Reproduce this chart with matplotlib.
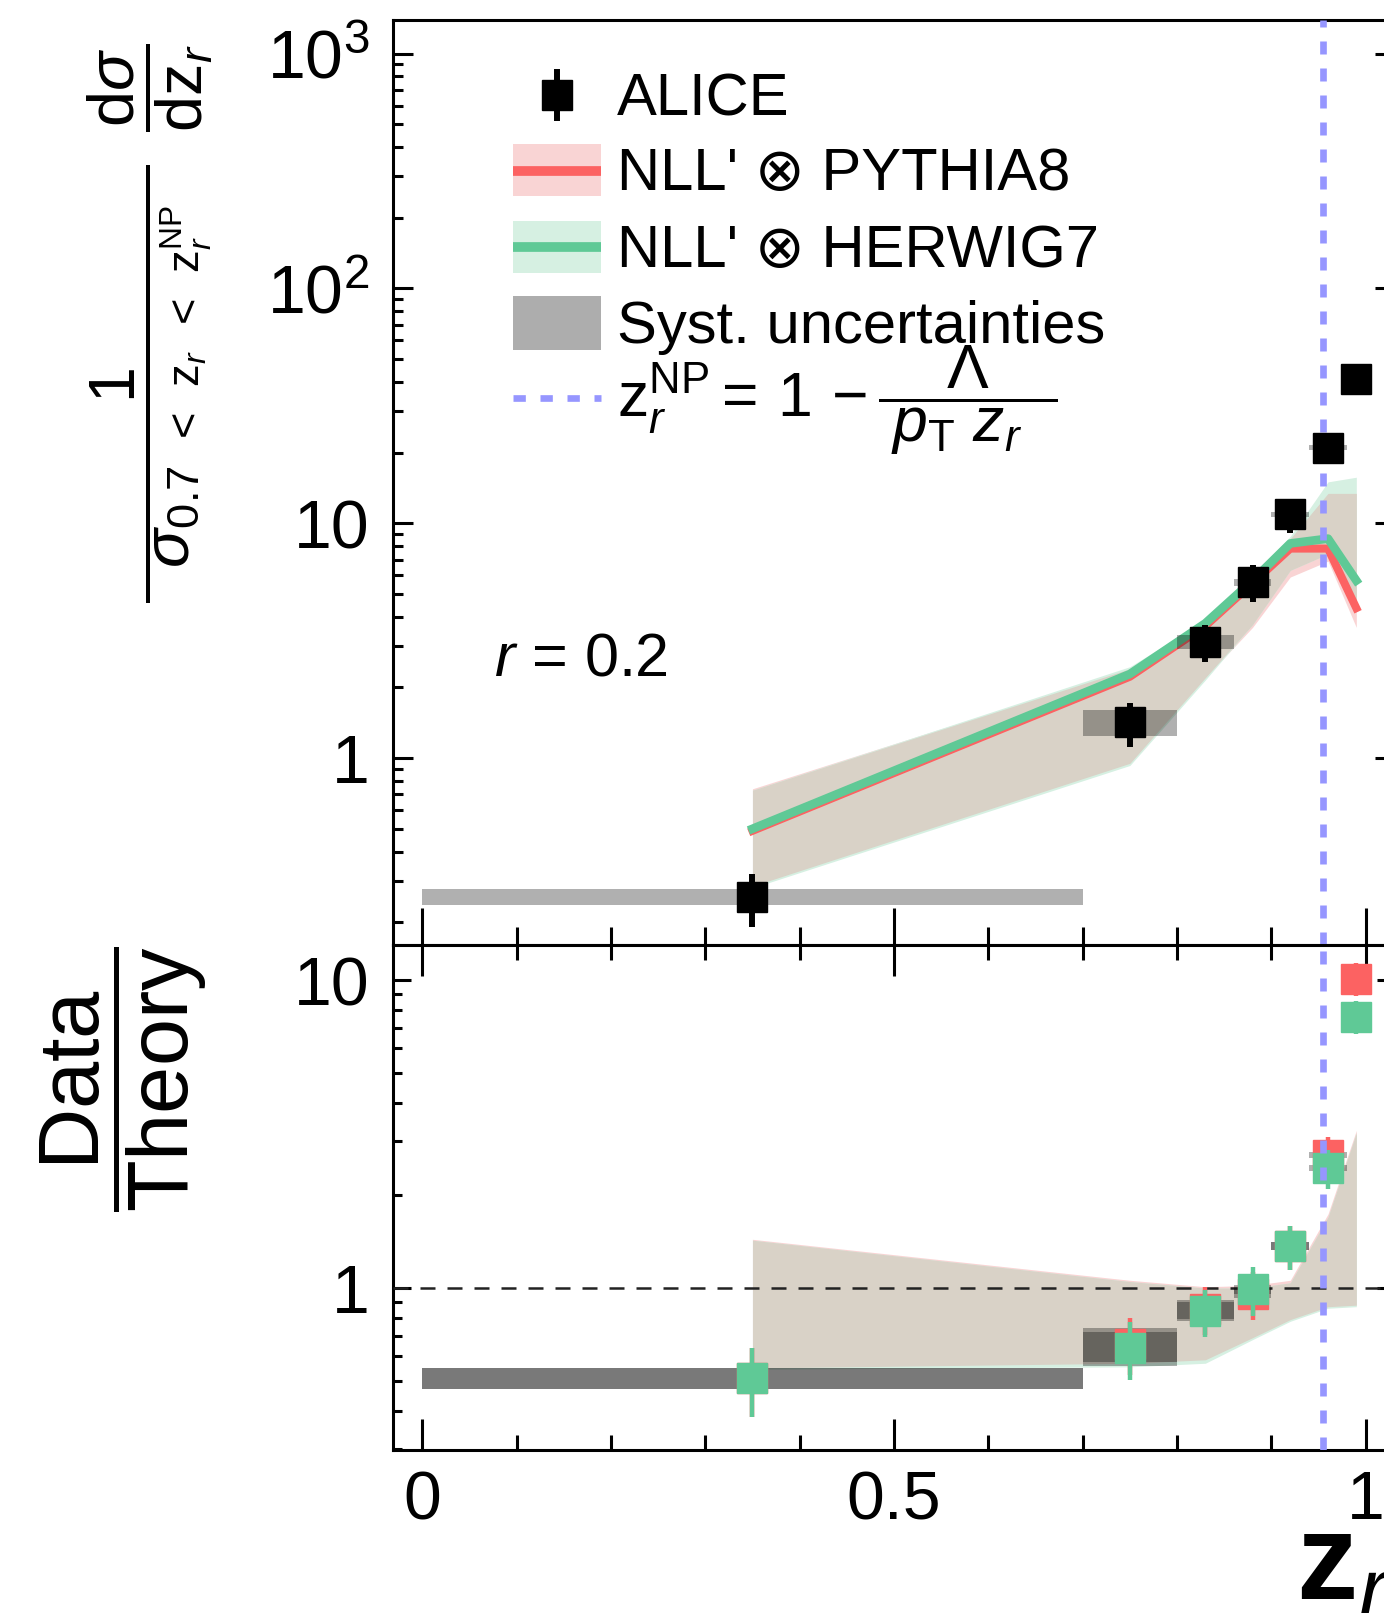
import matplotlib
matplotlib.use("Agg")
import matplotlib.pyplot as plt
import numpy as np
from matplotlib.patches import Rectangle
from matplotlib.ticker import FixedLocator, MultipleLocator, NullFormatter, LogLocator

plt.rcParams['font.family'] = ['Liberation Sans', 'DejaVu Sans']
plt.rcParams['mathtext.fontset'] = 'custom'
plt.rcParams['mathtext.rm'] = 'Liberation Sans'
plt.rcParams['mathtext.it'] = 'Liberation Sans:italic'
plt.rcParams['mathtext.bf'] = 'Liberation Sans:bold'
plt.rcParams['mathtext.sf'] = 'Liberation Sans'

# z_r bins
bin_lo = [0.0, 0.7, 0.8, 0.86, 0.9, 0.94, 0.98]
bin_hi = [0.7, 0.8, 0.86, 0.9, 0.94, 0.98, 1.0]
zr = [0.35, 0.75, 0.83, 0.88, 0.92, 0.96, 0.99]

# ALICE data
alice = [0.256, 1.42, 3.12, 5.61, 10.9, 21.0, 41.2]
alice_stat = [0.065, 0.30, 0.55, 1.0, 1.8, 3.0, 5.0]
alice_syst = [0.02, 0.18, 0.22, 0.19, 0.3, 0.5, 1.0]

# theory curves + bands
pythia = [0.49, 2.22, 3.65, 5.55, 7.8, 7.8, 4.35]
pythia_lo = [0.285, 0.95, 2.20, 3.6, 5.9, 6.9, 3.6]
pythia_hi = [0.74, 2.40, 3.80, 5.9, 8.6, 13.4, 13.4]
herwig = [0.50, 2.28, 3.75, 5.7, 8.2, 8.6, 5.7]
herwig_lo = [0.28, 0.93, 2.15, 3.7, 6.3, 7.4, 4.2]
herwig_hi = [0.73, 2.45, 3.85, 6.0, 8.8, 15.0, 15.7]

# data / theory
ratio_pythia = [0.51, 0.66, 0.855, 0.96, 1.37, 2.70, 10.1]
ratio_herwig = [0.51, 0.64, 0.84, 0.99, 1.37, 2.45, 7.6]
ratio_pythia_lo = [0.55, 0.57, 0.585, 0.69, 0.79, 0.87, 0.88]
ratio_pythia_hi = [1.44, 1.06, 1.01, 1.02, 1.06, 1.74, 3.25]
ratio_herwig_lo = [0.545, 0.555, 0.57, 0.68, 0.78, 0.86, 0.87]
ratio_herwig_hi = [1.43, 1.05, 1.0, 1.0, 1.04, 1.70, 3.19]

z_np = 0.955

top_ticks = [1, 10, 100, 1000]
top_ticklabels = ['1', '10', r'$\mathregular{10^{2}}$', r'$\mathregular{10^{3}}$']
bot_ticks = [1, 10]
bot_ticklabels = ['1', '10']
x_ticks = [0, 0.5, 1]
x_ticklabels = ['0', '0.5', '1']

legend_labels = ['ALICE', "NLL' \u2297 PYTHIA8", "NLL' \u2297 HERWIG7",
                 'Syst. uncertainties',
                 r'$\mathrm{z}_{r}^{\mathrm{NP}} =\,1\,-\dfrac{\Lambda}{\;p_{\mathrm{T}}\ z_{r}\enspace\,}$']

red = '#fc6262'
green = '#5fc996'
pink = '#f9d4d4'
lgreen = '#d6f0e2'
beige = '#d9d2c7'
blue = '#9696ff'

W, H = 1384, 1613
fig = plt.figure(figsize=(W / 100, H / 100), dpi=100)
ax1 = fig.add_axes([393 / W, 1 - 945 / H, 1002 / W, 925 / H])
ax2 = fig.add_axes([393 / W, 1 - 1450 / H, 1002 / W, 505 / H], sharex=ax1)

alice = np.array(alice)
alice_stat = np.array(alice_stat)
alice_syst = np.array(alice_syst)
width = np.array(bin_hi) - np.array(bin_lo)

# ---- top panel
ax1.fill_between(zr, pythia_lo, pythia_hi, color=pink, lw=0, zorder=1)
ax1.fill_between(zr, herwig_lo, herwig_hi, color=lgreen, lw=0, zorder=1)
ax1.fill_between(zr, np.maximum(pythia_lo, herwig_lo), np.minimum(pythia_hi, herwig_hi),
                 color=beige, lw=0, zorder=2)
ax1.plot(zr, pythia, color=red, lw=5.8, zorder=3)
ax1.plot(zr, herwig, color=green, lw=6.2, zorder=4)
ax1.bar(bin_lo, 2 * alice_syst, width=width, bottom=alice - alice_syst, align='edge',
        color='k', alpha=0.31, lw=0, zorder=5)
ax1.axvline(z_np, color=blue, lw=4.8, dashes=(1.95, 2.1), zorder=6)
ax1.errorbar(zr, alice, yerr=alice_stat, fmt='s', color='k', ms=22, elinewidth=4.3,
             capsize=0, zorder=7)

ax1.text(101 / 1002, (945 - 676) / 925, r'$r$ = 0.2', transform=ax1.transAxes,
         fontsize=44, va='baseline', ha='left')

# legend drawn by hand
def fx(px):
    return (px - 393) / 1002

def fy(py):
    return (945 - py) / 925

tr = ax1.transAxes
ax1.plot([fx(557), fx(557)], [fy(72), fy(118)], color='k', lw=4.3, transform=tr, zorder=8)
ax1.plot([fx(557)], [fy(95)], 's', color='k', ms=22, transform=tr, zorder=8)
ax1.add_patch(Rectangle((fx(513), fy(196)), fx(601) - fx(513), fy(144) - fy(196),
                        transform=tr, color=pink, lw=0, zorder=8))
ax1.plot([fx(513), fx(601)], [fy(171), fy(171)], color=red, lw=7, transform=tr, zorder=9,
         solid_capstyle='butt')
ax1.add_patch(Rectangle((fx(513), fy(273)), fx(601) - fx(513), fy(221) - fy(273),
                        transform=tr, color=lgreen, lw=0, zorder=8))
ax1.plot([fx(513), fx(601)], [fy(247), fy(247)], color=green, lw=7, transform=tr, zorder=9,
         solid_capstyle='butt')
ax1.add_patch(Rectangle((fx(513), fy(350)), fx(601) - fx(513), fy(296) - fy(350),
                        transform=tr, color='#adadad', lw=0, zorder=8))
ax1.plot([fx(513), fx(601)], [fy(398), fy(398)], color=blue, lw=4.8, dashes=(1.85, 2.2),
         transform=tr, zorder=9)
for lab, base, fs in zip(legend_labels, [116, 190, 267, 343, 417], [43, 43, 43, 43, 45]):
    ax1.text(fx(617), fy(base), lab, transform=tr, fontsize=fs, va='baseline', ha='left',
             zorder=9)

ax1.set_yscale('log')
ax1.set_ylim(0.16, 1389)
ax1.set_yticks(top_ticks)
ax1.set_yticklabels(top_ticklabels)

# ---- ratio panel
ax2.fill_between(zr, ratio_pythia_lo, ratio_pythia_hi, color=pink, lw=0, zorder=1)
ax2.fill_between(zr, ratio_herwig_lo, ratio_herwig_hi, color=lgreen, lw=0, zorder=1)
ax2.fill_between(zr, np.maximum(ratio_pythia_lo, ratio_herwig_lo),
                 np.minimum(ratio_pythia_hi, ratio_herwig_hi), color=beige, lw=0, zorder=2)
ax2.axhline(1, color='#222222', lw=1.8, dashes=(6, 4.8), zorder=3)
for rat in (ratio_pythia, ratio_herwig):
    rat = np.array(rat)
    s = rat * alice_syst / alice
    ax2.bar(bin_lo, 2 * s, width=width, bottom=rat - s, align='edge',
            color='k', alpha=0.31, lw=0, zorder=4)
for rat, col, z in ((ratio_pythia, red, 5), (ratio_herwig, green, 6)):
    rat = np.array(rat)
    ax2.errorbar(zr, rat, yerr=rat * alice_stat / alice, fmt='s', color=col, ms=22,
                 elinewidth=3.2, capsize=0, zorder=z)
ax2.axvline(z_np, color=blue, lw=4.8, dashes=(1.95, 2.1), zorder=7)

ax2.set_yscale('log')
ax2.set_ylim(0.298, 13.0)
ax2.set_yticks(bot_ticks)
ax2.set_yticklabels(bot_ticklabels)

# ---- axes cosmetics
ax1.set_xlim(-0.031, 1.031)
ax2.xaxis.set_major_locator(FixedLocator(x_ticks))
ax2.set_xticklabels(x_ticklabels)
ax2.xaxis.set_minor_locator(MultipleLocator(0.1))

for ax in (ax1, ax2):
    ax.yaxis.set_minor_locator(LogLocator(base=10, subs=np.arange(2, 10)))
    ax.yaxis.set_minor_formatter(NullFormatter())
    for sp in ax.spines.values():
        sp.set_linewidth(2.2)
    ax.tick_params(which='both', direction='in', width=2.2, labelsize=49, left=True, right=True)
    ax.tick_params(axis='y', which='major', pad=17)

ax1.tick_params(axis='x', which='major', length=26.6, top=False, bottom=True, labelbottom=False)
ax1.tick_params(axis='x', which='minor', length=13, top=False, bottom=True)
ax1.tick_params(axis='y', which='major', length=14.4)
ax1.tick_params(axis='y', which='minor', length=7.2)
ax2.tick_params(axis='x', which='major', length=22, top=True, bottom=True, pad=14)
ax2.tick_params(axis='x', which='minor', length=11, top=True, bottom=True)
ax2.tick_params(axis='y', which='major', length=13)
ax2.tick_params(axis='y', which='minor', length=6.5)

# axis titles
sp = r'\enspace'
ylab = (r'$\dfrac{1}{\enspace\,\sigma_{0.7' + sp + '<' + sp + r'\mathrm{z}_{r}' + sp + '<' + sp +
        r'\mathrm{z}_{r}^{\mathrm{NP}}}\enspace\,}\enspace\dfrac{\mathrm{d}\sigma}{\mathrm{d}\mathrm{z}_{r}}$')
fig.text(150 / W, 1 - 323 / H, ylab, rotation=90, fontsize=46.5, ha='center', va='center')
fig.text(124 / W, 1 - 1079 / H, r'$\dfrac{\mathrm{Data}}{\mathrm{Theory}}$',
         rotation=90, fontsize=61, ha='center', va='center')
fig.text(1296 / W, 1 - 1599 / H, r'$\mathbf{z}_{r}$', fontsize=88, ha='left', va='baseline')

fig.savefig('out.png', dpi=100)
